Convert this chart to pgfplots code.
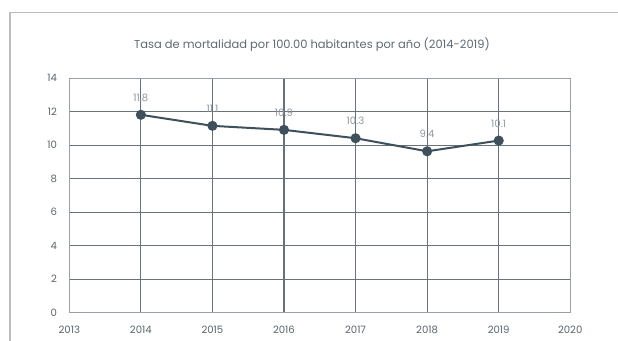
\documentclass[border=0pt]{standalone}
\usepackage{fontspec}
\setmainfont{Poppins}
\usepackage{pgfplots}
\usepackage{pgfplotstable}
\pgfplotsset{compat=1.18}
\definecolor{linec}{HTML}{3E505C}
\definecolor{gridc}{HTML}{66727B}
\definecolor{axisc}{HTML}{9AA2A8}
\definecolor{framec}{HTML}{BDBDBD}
\definecolor{titlec}{HTML}{5F6A72}
\definecolor{tickc}{HTML}{59636A}
\definecolor{labc}{HTML}{8E979D}
\pgfplotstableread{
year val label
2014 11.82 11.8
2015 11.16 11.1
2016 10.92 10.9
2017 10.42 10.3
2018 9.64 9.4
2019 10.28 10.1
}\datatable
\begin{document}
\begin{tikzpicture}[x=0.75pt,y=0.75pt]
\useasboundingbox (0,0) rectangle (618,341);
\draw[color=framec, line width=1pt] (10,0) -- (10,328.7) -- (618,328.7);
\node[font=\fontsize{8.6}{10}\selectfont, text=titlec, inner sep=0pt] at (312,296) {Tasa de mortalidad por 100.00 habitantes por año (2014-2019)};
\begin{axis}[
  at={(51.975pt,21.225pt)}, anchor=south west,
  scale only axis, width=375.75pt, height=175.8pt,
  xmin=2013, xmax=2020, ymin=0, ymax=14,
  xtick={2013,2014,...,2020}, ytick={0,2,...,14},
  /pgf/number format/assume math mode=true,
  /pgf/number format/1000 sep={},
  grid=major,
  grid style={color=gridc, line width=0.8pt},
  axis line style={color=axisc, line width=0.9pt},
  major tick length=0pt,
  tick style={draw=none},
  ticklabel style={font=\fontsize{7.6}{9}\selectfont, text=tickc, inner sep=0pt},
  xticklabel style={anchor=center, yshift=-13pt},
  yticklabel style={anchor=east, xshift=-9pt},
  nodes near coords,
  point meta=explicit symbolic,
  nodes near coords style={anchor=center, yshift=12.75pt, font=\fontsize{7.6}{9}\selectfont, text=labc, inner sep=0pt},
]
\addplot[color=linec, line width=1.5pt, mark=*, mark size=3pt, mark options={fill=linec, draw=linec}]
  table[x=year, y=val, meta=label] {\datatable};
\end{axis}
\end{tikzpicture}
\end{document}
